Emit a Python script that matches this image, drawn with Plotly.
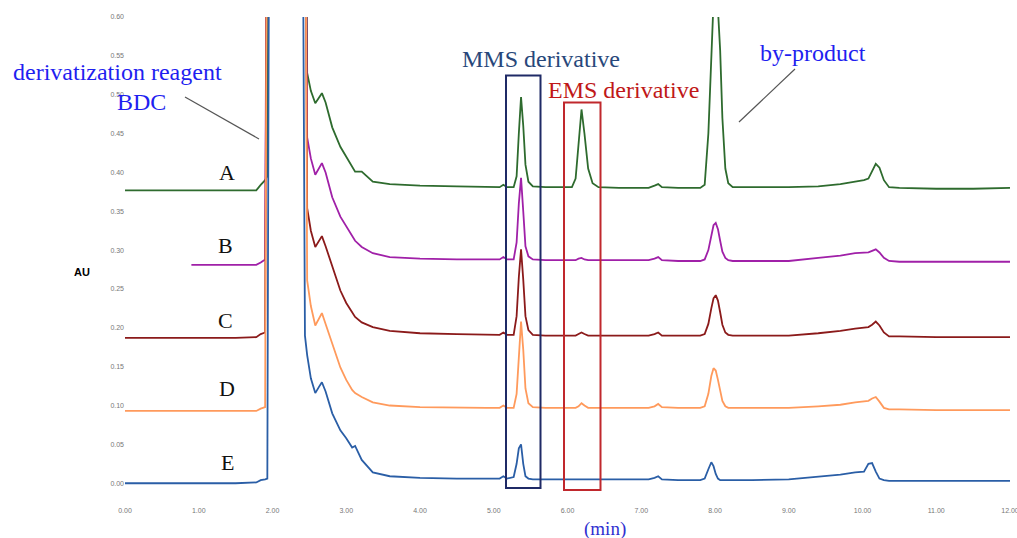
import plotly.graph_objects as go

# ---------------- data ----------------
time_min = [0.00, 0.90, 1.50, 1.78, 1.84, 1.90, 1.93, 1.96, 2.40, 2.44,
            2.47, 2.52, 2.58, 2.63, 2.67, 2.72, 2.81, 2.92, 3.00, 3.08,
            3.12, 3.21, 3.36, 3.59, 4.00, 4.50, 4.90, 5.08, 5.13, 5.18,
            5.27, 5.31, 5.34, 5.37, 5.40, 5.43, 5.47, 5.53, 5.70, 5.95,
            6.06, 6.11, 6.15, 6.19, 6.23, 6.28, 6.34, 6.42, 6.70, 7.10,
            7.18, 7.23, 7.28, 7.50, 7.80, 7.86, 7.91, 7.95, 7.98, 8.01,
            8.04, 8.07, 8.10, 8.14, 8.18, 8.24, 8.50, 9.00, 9.40, 9.70,
            9.90, 10.02, 10.08, 10.13, 10.18, 10.23, 10.29, 10.36, 10.50, 11.00,
            11.50, 12.00]

au_A = [0.377, 0.377, 0.377, 0.377, 0.384, 0.390, 0.395, 0.95, 0.95, 0.95,
        0.528, 0.505, 0.489, 0.497, 0.502, 0.490, 0.458, 0.433, 0.420, 0.407,
        0.401, 0.401, 0.388, 0.385, 0.383, 0.382, 0.381, 0.381, 0.384, 0.381,
        0.381, 0.395, 0.450, 0.497, 0.460, 0.410, 0.388, 0.382, 0.381, 0.381,
        0.381, 0.392, 0.440, 0.481, 0.450, 0.405, 0.386, 0.381, 0.380, 0.380,
        0.383, 0.385, 0.381, 0.380, 0.380, 0.384, 0.450, 0.540, 0.620, 0.640,
        0.610, 0.557, 0.470, 0.405, 0.386, 0.381, 0.381, 0.381, 0.382, 0.385,
        0.388, 0.390, 0.392, 0.402, 0.411, 0.406, 0.390, 0.381, 0.380, 0.379,
        0.379, 0.380]

au_B = [None, 0.281, 0.281, 0.281, 0.284, 0.288, 0.95, 0.95, 0.95, 0.95,
        0.445, 0.418, 0.397, 0.405, 0.412, 0.400, 0.368, 0.343, 0.330, 0.317,
        0.312, 0.304, 0.296, 0.291, 0.289, 0.288, 0.288, 0.288, 0.291, 0.288,
        0.288, 0.310, 0.360, 0.393, 0.350, 0.305, 0.292, 0.288, 0.287, 0.287,
        0.287, 0.287, 0.289, 0.290, 0.288, 0.287, 0.287, 0.287, 0.287, 0.287,
        0.289, 0.291, 0.287, 0.286, 0.286, 0.288, 0.300, 0.320, 0.332, 0.335,
        0.327, 0.312, 0.298, 0.290, 0.287, 0.286, 0.286, 0.286, 0.290, 0.293,
        0.296, 0.297, 0.297, 0.299, 0.301, 0.297, 0.290, 0.286, 0.285, 0.285,
        0.285, 0.285]

au_C = [0.187, 0.187, 0.187, 0.188, 0.192, 0.194, 0.95, 0.95, 0.95, 0.95,
        0.354, 0.325, 0.304, 0.312, 0.318, 0.305, 0.278, 0.248, 0.232, 0.219,
        0.214, 0.207, 0.201, 0.196, 0.193, 0.192, 0.191, 0.191, 0.194, 0.191,
        0.191, 0.215, 0.265, 0.301, 0.262, 0.215, 0.197, 0.191, 0.190, 0.190,
        0.190, 0.190, 0.192, 0.194, 0.192, 0.190, 0.190, 0.190, 0.190, 0.190,
        0.192, 0.194, 0.190, 0.190, 0.190, 0.192, 0.205, 0.225, 0.238, 0.242,
        0.235, 0.220, 0.204, 0.194, 0.191, 0.190, 0.190, 0.190, 0.193, 0.196,
        0.199, 0.200, 0.201, 0.204, 0.208, 0.203, 0.194, 0.189, 0.189, 0.188,
        0.188, 0.188]

au_D = [0.093, 0.093, 0.093, 0.093, 0.096, 0.098, 0.95, 0.95, 0.95, 0.95,
        0.261, 0.228, 0.203, 0.212, 0.219, 0.205, 0.180, 0.149, 0.133, 0.120,
        0.116, 0.111, 0.104, 0.100, 0.098, 0.097, 0.097, 0.097, 0.100, 0.097,
        0.097, 0.115, 0.170, 0.208, 0.172, 0.122, 0.103, 0.098, 0.097, 0.097,
        0.097, 0.097, 0.099, 0.103, 0.100, 0.097, 0.097, 0.097, 0.097, 0.097,
        0.099, 0.102, 0.098, 0.097, 0.097, 0.099, 0.115, 0.138, 0.148, 0.145,
        0.133, 0.118, 0.106, 0.099, 0.097, 0.097, 0.097, 0.097, 0.099, 0.101,
        0.104, 0.105, 0.106, 0.109, 0.111, 0.105, 0.097, 0.095, 0.095, 0.094,
        0.094, 0.094]

au_E = [0.000, 0.000, 0.000, 0.001, 0.004, 0.005, 0.006, 0.95, 0.95, 0.190,
        0.165, 0.135, 0.116, 0.124, 0.130, 0.118, 0.090, 0.068, 0.058, 0.046,
        0.048, 0.030, 0.014, 0.009, 0.007, 0.006, 0.006, 0.006, 0.009, 0.006,
        0.008, 0.025, 0.045, 0.050, 0.025, 0.009, 0.006, 0.005, 0.005, 0.005,
        0.005, 0.005, 0.005, 0.005, 0.005, 0.005, 0.005, 0.005, 0.005, 0.005,
        0.007, 0.009, 0.005, 0.004, 0.004, 0.006, 0.018, 0.027, 0.022, 0.012,
        0.006, 0.004, 0.004, 0.004, 0.004, 0.004, 0.004, 0.005, 0.008, 0.011,
        0.014, 0.015, 0.025, 0.026, 0.015, 0.006, 0.004, 0.003, 0.003, 0.003,
        0.003, 0.003]

sample_labels = ["A", "B", "C", "D", "E"]
x_ticks = [0, 1, 2, 3, 4, 5, 6, 7, 8, 9, 10, 11, 12]
y_ticks = [0.00, 0.05, 0.10, 0.15, 0.20, 0.25, 0.30, 0.35, 0.40, 0.45, 0.50, 0.55, 0.60]

# ---------------- styling ----------------
series = [au_A, au_B, au_C, au_D, au_E]
colors = ["#2e6b2e", "#a020a8", "#8b1a1a", "#ff9a5c", "#2a5ea6"]

W, H = 1017, 538
ML, MR, MT, MB = 125, 7, 17, 47
YMIN, YMAX = -0.01, 0.60
PW, PH = W - ML - MR, H - MT - MB


def px(xp):
    return (xp - ML) / PW


def py(yp):
    return (H - MB - yp) / PH


fig = go.Figure()
for name, vals, col in zip(sample_labels, series, colors):
    fig.add_trace(go.Scatter(x=time_min, y=vals, mode="lines", name=name,
                             line=dict(color=col, width=1.8),
                             connectgaps=False, showlegend=False))

serif = "Liberation Serif"
ann = []


def text(s, xp, yp, size, color, family=serif, bold=False):
    ann.append(dict(text=("<b>%s</b>" % s) if bold else s, x=px(xp), y=py(yp),
                    xref="paper", yref="paper", showarrow=False,
                    xanchor="center", yanchor="middle",
                    font=dict(family=family, size=size, color=color)))


text("derivatization reagent", 117, 72, 24, "#1f1ff0")
text("BDC", 141, 102, 24, "#1f1ff0")
text("MMS derivative", 541, 59, 24, "#28477a")
text("EMS derivative", 623, 90, 24, "#c01818")
text("by-product", 813, 53, 24, "#1f1ff0")
text("(min)", 605, 529, 19, "#3030d0")
label_pos = [(227, 172), (225, 245), (225, 321), (227, 388), (227, 462)]
for lab, (lx, ly) in zip(sample_labels, label_pos):
    text(lab, lx, ly, 22, "#111111")
text("AU", 82, 272, 11, "#000000", family="Liberation Sans", bold=True)

shapes = [
    dict(type="rect", xref="paper", yref="paper", x0=px(506), x1=px(540.5),
         y0=py(488), y1=py(75.5), line=dict(color="#1f2a66", width=2)),
    dict(type="rect", xref="paper", yref="paper", x0=px(564), x1=px(600.5),
         y0=py(490), y1=py(102.5), line=dict(color="#c0282d", width=2)),
    dict(type="line", xref="paper", yref="paper", x0=px(185), y0=py(97),
         x1=px(259), y1=py(139), line=dict(color="#555555", width=1.2)),
    dict(type="line", xref="paper", yref="paper", x0=px(795), y0=py(69),
         x1=px(739), y1=py(122), line=dict(color="#555555", width=1.2)),
]

tickfont = dict(family="Liberation Sans", size=7, color="#777777")
fig.update_layout(
    width=W, height=H,
    margin=dict(l=ML, r=MR, t=MT, b=MB, autoexpand=False),
    paper_bgcolor="white", plot_bgcolor="white",
    annotations=ann, shapes=shapes,
    xaxis=dict(range=[0, 12], tickvals=x_ticks,
               ticktext=["%.2f" % v for v in x_ticks],
               showgrid=False, zeroline=False, showline=False,
               ticks="", tickfont=tickfont, ticklabelstandoff=14,
               ticklabeloverflow="allow", automargin=False),
    yaxis=dict(range=[YMIN, YMAX], tickvals=y_ticks,
               ticktext=["%.2f" % v for v in y_ticks],
               showgrid=False, zeroline=False, showline=False,
               ticks="", tickfont=tickfont, automargin=False),
)

fig.write_html("out.html",
               config={"displayModeBar": False},
               post_script="document.body.style.margin='0';"
                           "document.body.style.overflow='hidden';")
